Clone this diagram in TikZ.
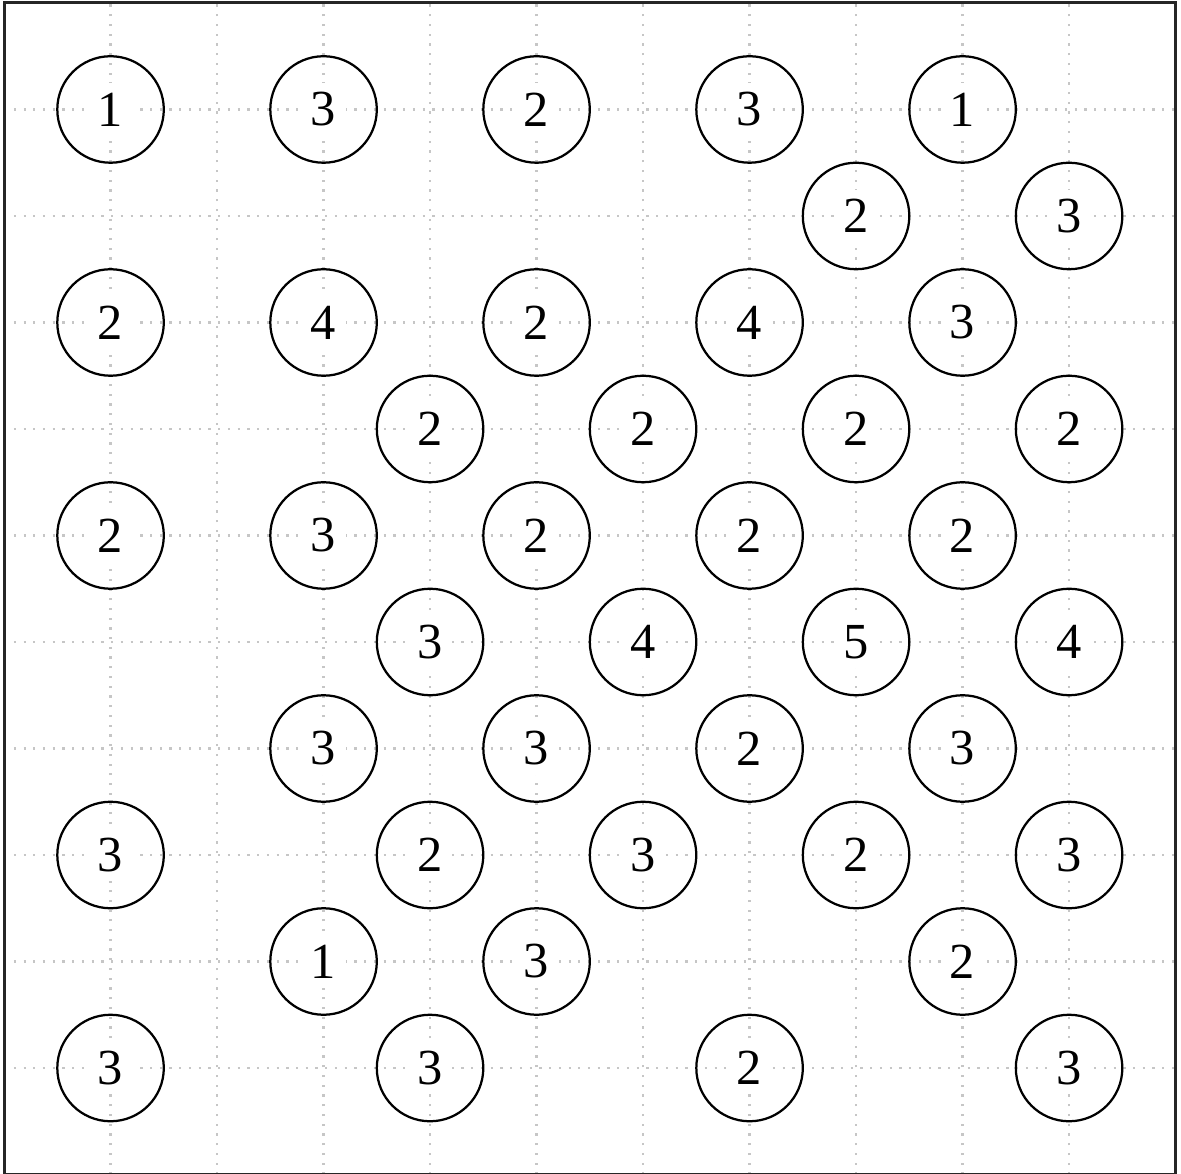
\documentclass[tikz,border=0pt]{standalone}
\usepackage{fontspec}
\setmainfont{Liberation Serif}
\usepackage{tikz}
\usetikzlibrary{positioning}

\begin{document}
\begin{tikzpicture}[
  isl/.style={circle, draw, semithick, minimum size=1cm, inner sep=0pt},
  num/.style={fill=white, inner sep=2.5pt, font=\fontsize{13.5}{16}\selectfont},
  gridln/.style={gray!45, dotted, semithick},
  frame/.style={draw, thick, black!85}
]
\useasboundingbox (-0.038,0.028) rectangle (11.051,-10.995);
\draw[gridln] (0,0) grid (11,-11);
\draw[frame] (0,0) rectangle (11,-11);

% islands: column/row/value
\foreach \c/\r/\n in {1/1/1, 3/1/3, 5/1/2, 7/1/3, 9/1/1,
                      8/2/2, 10/2/3,
                      1/3/2, 3/3/4, 5/3/2, 7/3/4, 9/3/3,
                      4/4/2, 6/4/2, 8/4/2, 10/4/2,
                      1/5/2, 3/5/3, 5/5/2, 7/5/2, 9/5/2,
                      4/6/3, 6/6/4, 8/6/5, 10/6/4,
                      3/7/3, 5/7/3, 7/7/2, 9/7/3,
                      1/8/3, 4/8/2, 6/8/3, 8/8/2, 10/8/3,
                      3/9/1, 5/9/3, 9/9/2,
                      1/10/3, 4/10/3, 7/10/2, 10/10/3}
  \node[isl, label={[num]center:\n}] (isl-\r-\c) at (\c,-\r) {};
\end{tikzpicture}
\end{document}
